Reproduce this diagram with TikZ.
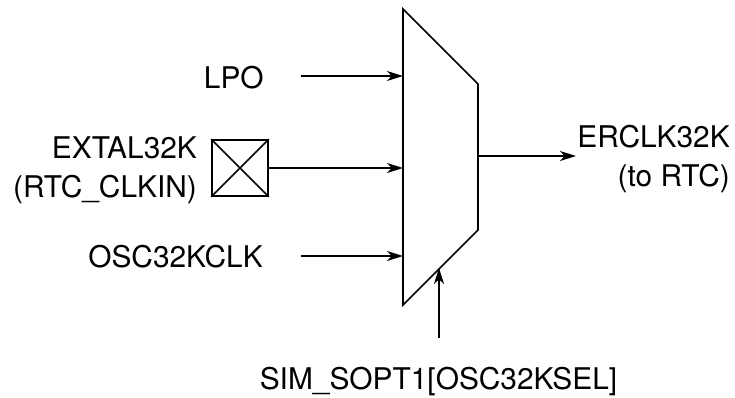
\documentclass[tikz,border=0pt]{standalone}
\usepackage{fontspec}
\setmainfont{TeX Gyre Heros}
\usetikzlibrary{arrows.meta, positioning, calc}

\begin{document}
\begin{tikzpicture}[
    x=0.75pt, y=-0.75pt,
    label/.style={inner sep=0pt, align=right, font=\fontsize{22.4}{29}\selectfont},
    pad/.style={rectangle, draw, line width=1.3pt, minimum size=42pt, inner sep=0pt},
    mux/.style={line width=1.3pt, line join=miter},
    arrow/.style={-{Stealth[length=12pt, width=7.5pt, inset=3.5pt]}, line width=1.2pt}
]
    \useasboundingbox (0,0) rectangle (735,397);

    % mux outline
    \coordinate (muxa) at (403,9);
    \coordinate (muxb) at (478,84);
    \coordinate (muxc) at (478,230);
    \coordinate (muxd) at (403,305);
    \draw[mux] (muxa) -- (muxb) -- (muxc) -- (muxd) -- cycle;

    % inputs
    \node[label, anchor=base east] (lpo) at (264,88) {LPO};
    \node[label, anchor=base east] (osc) at (263,267) {OSC32KCLK};
    \node[pad] (xtal) at (240,168) {};
    \draw[line width=1.2pt] (xtal.north west) -- (xtal.south east);
    \draw[line width=1.2pt] (xtal.south west) -- (xtal.north east);
    \node[label, left=10.5pt of xtal, yshift=-1.7pt] (extal) {EXTAL32K\\(RTC\_CLKIN)};

    \coordinate (lpoin) at (301,76);
    \coordinate (lpoend) at (403,76);
    \coordinate (xtalend) at (403,168);
    \coordinate (oscin) at (301,256);
    \coordinate (oscend) at (403,256);
    \draw[arrow] (lpoin) -- (lpoend);
    \draw[arrow] (xtal.east) -- (xtalend);
    \draw[arrow] (oscin) -- (oscend);

    % output
    \coordinate (muxout) at (478,156);
    \coordinate (outend) at (576,156);
    \node[label, anchor=north east] (erclk) at (730,125) {ERCLK32K\\(to RTC)};
    \draw[arrow] (muxout) -- (outend);

    % select
    \node[label, anchor=base] (sel) at (438.5,389) {SIM\_SOPT1[OSC32KSEL]};
    \coordinate (selin) at (439,338);
    \coordinate (selend) at (439,268);
    \draw[arrow] (selin) -- (selend);
\end{tikzpicture}
\end{document}
